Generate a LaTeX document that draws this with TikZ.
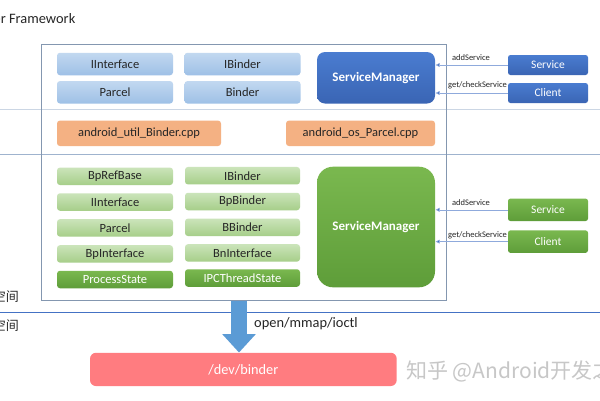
\documentclass[tikz,border=0pt]{standalone}
\usepackage{fontspec}
\setmainfont{Carlito}
\newfontfamily\cjk{Noto Sans CJK SC}
\usetikzlibrary{arrows.meta}
\definecolor{lbTop}{HTML}{C2D8F0}
\definecolor{lbBot}{HTML}{9EC0E6}
\definecolor{lgTop}{HTML}{CBE4BA}
\definecolor{lgBot}{HTML}{A6CE89}
\definecolor{dgTop}{HTML}{7AB84F}
\definecolor{dgBot}{HTML}{5E9D39}
\definecolor{dbTop}{HTML}{4A7CD0}
\definecolor{dbBot}{HTML}{3A65B4}
\definecolor{smGreen}{HTML}{70AD47}
\definecolor{smBlue}{HTML}{4472C4}
\definecolor{orng}{HTML}{F4B183}
\definecolor{redbox}{HTML}{FF7C80}
\definecolor{fatblue}{HTML}{5B9BD5}
\definecolor{frameC}{HTML}{8497B0}
\definecolor{sepA}{HTML}{CBD6E4}
\definecolor{sepB}{HTML}{9FB3CE}
\definecolor{connC}{HTML}{8FAADC}
\definecolor{txt}{HTML}{262626}
\tikzset{
  base/.style={rounded corners=3pt, inner sep=0pt, text=txt, font=\fontsize{12.5}{14}\selectfont},
  lblue/.style={base, top color=lbTop, bottom color=lbBot, minimum width=116pt, minimum height=22.5pt},
  lgreen/.style={base, top color=lgTop, bottom color=lgBot, minimum width=116pt, minimum height=17.5pt},
  dgreen/.style={base, top color=dgTop, bottom color=dgBot, text=white, minimum width=116pt, minimum height=17.5pt},
  orbox/.style={base, fill=orng, minimum height=25.5pt},
  bigsm/.style={inner sep=0pt, text=white, font=\fontsize{13}{15}\selectfont\bfseries, minimum width=118pt},
  cli/.style={rounded corners=2.5pt, inner sep=0pt, text=white, font=\fontsize{11.5}{13}\selectfont, minimum width=80pt},
  cliblue/.style={cli, top color=dbTop, bottom color=dbBot, minimum height=20pt},
  cligreen/.style={cli, top color=dgTop, bottom color=dgBot, minimum height=22.5pt},
  conn/.style={draw=connC, line width=0.6pt, -{Triangle[width=4pt,length=4pt,fill=smBlue]}, shorten >=0.5pt},
  clabel/.style={inner sep=0pt, text=txt, font=\fontsize{8.5}{10}\selectfont},
  side/.style={inner sep=0pt, text=txt, font=\cjk\fontsize{13}{15}\selectfont, anchor=east}
}
\begin{document}
\begin{tikzpicture}[x=1pt, y=-1pt]
\useasboundingbox (0,0) rectangle (600,400);
\clip (0,0) rectangle (600,400);
\fill[white] (0,0) rectangle (600,400);
% layer separators
\draw[sepA, line width=0.8pt] (0,109.5) -- (600,109.5);
\draw[sepB, line width=0.8pt] (0,154.2) -- (600,154.2);
\draw[smBlue, line width=1.2pt] (0,312.3) -- (600,312.3);
% frame
\node[draw=frameC, line width=0.8pt, minimum width=405pt, minimum height=255.7pt, inner sep=0pt] (frame) at (244.2,172.15) {};
% titles
\node[inner sep=0pt, anchor=east, text=txt, font=\fontsize{14.4}{16}\selectfont] (title) at (75.5,18.5) {Binder Framework};
\node[side] (user) at (19,297) {用户空间};
\node[side] (kern) at (19,325.5) {内核空间};
% top blue layer
\node[lblue] (ii1) at (115,64) {IInterface};
\node[lblue] (ib1) at (242.5,64) {IBinder};
\node[lblue] (pa1) at (115,92.3) {Parcel};
\node[lblue] (bi1) at (242.5,92.3) {Binder};
\node[bigsm, rounded corners=8pt, top color=dbTop, bottom color=dbBot, minimum height=51.5pt] (sm1) at (376,77.75) {ServiceManager};
\node[cliblue] (svc1) at (548,65) {Service};
\node[cliblue] (cl1) at (548,93) {Client};
\draw[conn] (svc1.west) -- (svc1.west -| sm1.east);
\draw[conn] (cl1.west) -- (cl1.west -| sm1.east);
\node[clabel] (la1) at (471,57.3) {addService};
\node[clabel] (lb1) at (477.5,85.7) {get/checkService};
% JNI layer
\node[orbox, minimum width=164pt] (aub) at (139,133.3) {android\_util\_Binder.cpp};
\node[orbox, minimum width=149pt] (aop) at (360.5,133.3) {android\_os\_Parcel.cpp};
% native layer
\node[lgreen] (brb) at (115,176.3) {BpRefBase};
\node[lgreen] (ii2) at (115,202) {IInterface};
\node[lgreen] (pa2) at (115,227.9) {Parcel};
\node[lgreen] (bpi) at (115,253.9) {BpInterface};
\node[dgreen] (ps) at (115,279.5) {ProcessState};
\node[lgreen, minimum width=115pt] (ib2) at (242.5,175.7) {IBinder};
\node[lgreen, minimum width=115pt] (bpb) at (242.5,201.5) {BpBinder};
\node[lgreen, minimum width=115pt] (bb) at (242.5,227.3) {BBinder};
\node[lgreen, minimum width=115pt] (bni) at (242.5,252.9) {BnInterface};
\node[dgreen, minimum width=115pt] (ipc) at (242.5,278) {IPCThreadState};
\node[bigsm, rounded corners=16pt, top color=dgTop, bottom color=dgBot, minimum height=120.6pt] (sm2) at (376,227) {ServiceManager};
\node[cligreen] (svc2) at (548,209.8) {Service};
\node[cligreen] (cl2) at (548,241.6) {Client};
\draw[conn] (svc2.west) -- (svc2.west -| sm2.east);
\draw[conn] (cl2.west) -- (cl2.west -| sm2.east);
\node[clabel] (la2) at (471,202.3) {addService};
\node[clabel] (lb2) at (477.5,235.3) {get/checkService};
% kernel
\node[rounded corners=6pt, fill=redbox, inner sep=0pt, minimum width=306.7pt, minimum height=33.3pt, text=white, font=\fontsize{14.3}{16}\selectfont] (dev) at (243.35,369.4) {/dev/binder};
\coordinate (atop) at (239,300.5);
\draw[fatblue, line width=16pt, -{Triangle[width=32.5pt,length=18.5pt]}] (atop) -- (atop |- dev.north);
\node[inner sep=0pt, anchor=west, text=txt, font=\fontsize{14.4}{16}\selectfont] (ioctl) at (254,323.5) {open/mmap/ioctl};
\node[inner sep=0pt, anchor=west, text=black!22, font=\cjk\fontsize{21}{23}\selectfont] (wm) at (406,371.5) {知乎 @Android开发之};
\end{tikzpicture}
\end{document}
